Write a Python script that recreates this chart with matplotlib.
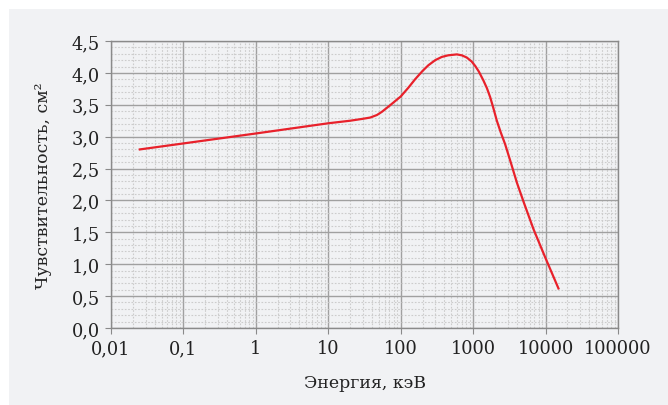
import numpy as np
import matplotlib
matplotlib.use('Agg')
import matplotlib.pyplot as plt
from matplotlib.patches import Rectangle
from matplotlib.ticker import FixedLocator, LogLocator, MultipleLocator, FuncFormatter

# Energy (keV) and sensitivity (cm^2)
energy = [0.025, 1, 10, 20, 30, 38, 47, 55, 71, 100, 128, 158, 200, 241,
          300, 369, 450, 595, 700, 819, 950, 1066, 1200, 1388, 1550, 1718,
          1900, 2124, 2400, 2767, 3300, 4016, 5000, 6810, 9860, 15070]
sensitivity = [2.80, 3.05, 3.21, 3.25, 3.28, 3.30, 3.34, 3.39, 3.49, 3.63,
               3.77, 3.90, 4.03, 4.12, 4.20, 4.25, 4.275, 4.29, 4.275, 4.24,
               4.18, 4.11, 4.02, 3.88, 3.76, 3.62, 3.45, 3.25, 3.07, 2.88,
               2.60, 2.28, 1.97, 1.55, 1.11, 0.62]

x_ticks = [0.01, 0.1, 1, 10, 100, 1000, 10000, 100000]
x_tick_labels = ['0,01', '0,1', '1', '10', '100', '1000', '10000', '100000']
y_ticks = [0.0, 0.5, 1.0, 1.5, 2.0, 2.5, 3.0, 3.5, 4.0, 4.5]

bg = '#f1f2f4'
plt.rcParams['font.family'] = ['DejaVu Serif']

fig = plt.figure(figsize=(6.68, 4.06), dpi=100)
fig.patch.set_facecolor('white')
fig.add_artist(Rectangle((9 / 668, 0), 1 - 9 / 668, 1 - 10 / 406,
                         transform=fig.transFigure, facecolor=bg,
                         edgecolor='none', zorder=-10))

ax = fig.add_axes([111 / 668, 1 - 329 / 406, 507 / 668, 287 / 406])
ax.set_facecolor(bg)
ax.set_xscale('log')
ax.set_xlim(0.01, 100000)
ax.set_ylim(0, 4.5)

ax.xaxis.set_major_locator(FixedLocator(x_ticks))
ax.xaxis.set_major_formatter(FuncFormatter(
    lambda v, p: x_tick_labels[x_ticks.index(v)] if v in x_ticks else ''))
ax.xaxis.set_minor_locator(LogLocator(base=10, subs=np.arange(2, 10), numticks=20))
ax.xaxis.set_minor_formatter(FuncFormatter(lambda v, p: ''))
ax.yaxis.set_major_locator(FixedLocator(y_ticks))
ax.yaxis.set_major_formatter(FuncFormatter(lambda v, p: f'{v:.1f}'.replace('.', ',')))
ax.yaxis.set_minor_locator(MultipleLocator(0.1))

ax.grid(which='major', color='#a0a0a0', linewidth=1.0)
ax.grid(which='minor', color='#cccccc', linewidth=0.8, linestyle=(0, (1.5, 1.5)))
ax.set_axisbelow(True)

for s in ax.spines.values():
    s.set_color('#8a8a8a')
    s.set_linewidth(1.0)

ax.tick_params(which='major', length=4, color='#8a8a8a', labelsize=12.8,
               labelcolor='#222222', pad=4)
ax.tick_params(which='minor', length=0)

ax.plot(energy, sensitivity, color='#e8212b', linewidth=1.6, zorder=3)

ax.set_xlabel('Энергия, кэВ', fontsize=12.5, color='#222222', labelpad=12)
ax.set_ylabel('Чувствительность, см²', fontsize=12.5, color='#222222', labelpad=14)

fig.savefig('out.png', dpi=100, facecolor=fig.get_facecolor())
